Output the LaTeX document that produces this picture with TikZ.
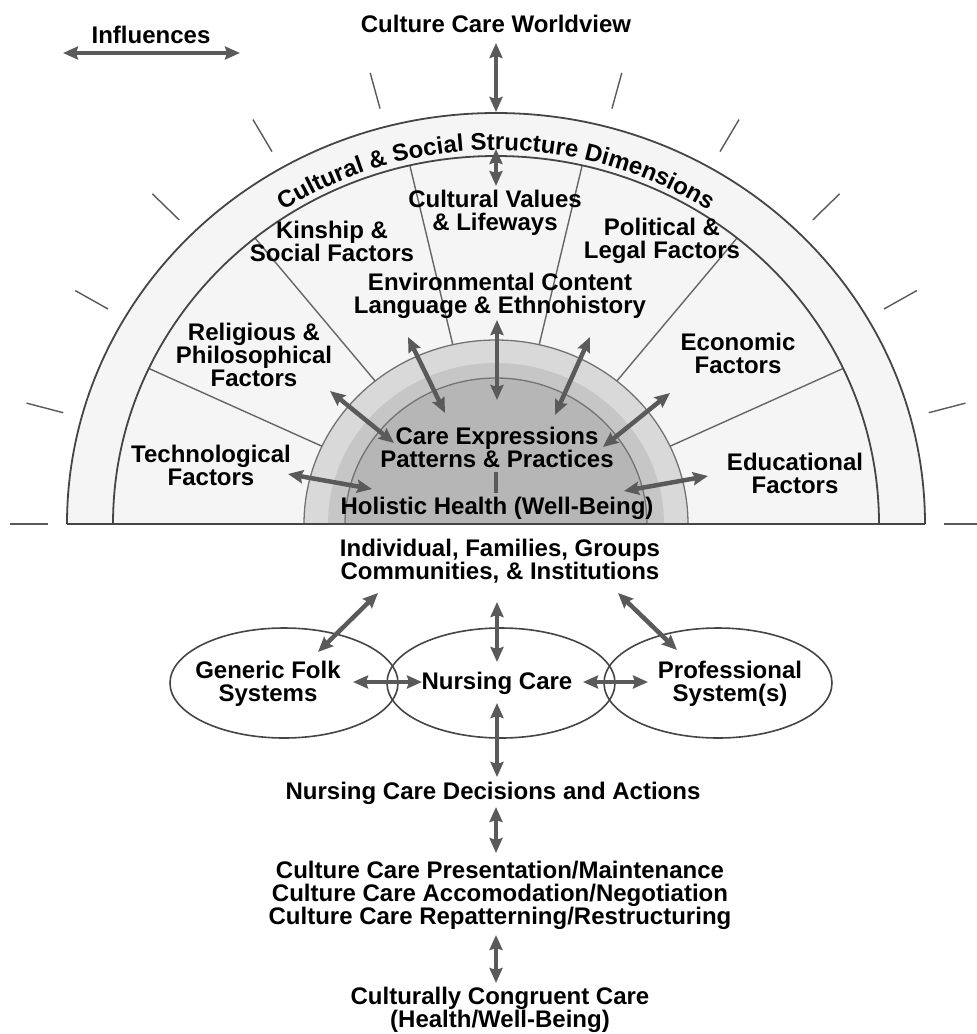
\documentclass[tikz,border=0pt]{standalone}
\usepackage{fontspec}
\setmainfont{Liberation Sans}
\usetikzlibrary{arrows.meta,shapes.geometric,decorations.text}
\definecolor{arrowgray}{HTML}{5A5A5A}
\definecolor{linegray}{HTML}{454545}
\definecolor{ringlight}{HTML}{D9D9D9}
\definecolor{ringmid}{HTML}{C6C6C6}
\definecolor{ringdark}{HTML}{B6B6B6}
\definecolor{paper}{HTML}{F5F5F5}
\newcommand\bandfont{\fontsize{24}{24}\selectfont\bfseries}
\begin{document}
\begin{tikzpicture}[x=1pt,y=-1pt,
  lbl/.style={font=\fontsize{24}{23}\selectfont\bfseries, align=center, inner sep=0pt},
  biarrow/.style={draw=arrowgray, line width=4.5pt, {Stealth[length=15pt,width=13pt,inset=2pt]}-{Stealth[length=15pt,width=13pt,inset=2pt]}},
  bar/.style={draw=arrowgray, line width=4.5pt},
  arcline/.style={draw=linegray, line width=1.8pt},
  spoke/.style={draw=black!60, line width=1.4pt},
  tickmark/.style={draw=black!65, line width=1.4pt},
  ringline/.style={draw=black!55, line width=1.3pt},
  oval/.style={ellipse, draw=linegray, line width=1.6pt, minimum width=228pt, minimum height=110pt, inner sep=0pt}
]
\useasboundingbox (0,0) rectangle (977,1034);
\coordinate (C) at (496,524);

% semicircle background
\fill[paper] (C) ++(-180:429 and 411) arc[start angle=-180,end angle=0,x radius=429,y radius=411] -- cycle;

% ticks
\foreach \a in {0,15,30,45,60,75,105,120,135,150,165,180}
  \draw[tickmark] ({496+448*cos(\a)},{524-430*sin(\a)}) -- ({496+486*cos(\a)},{524-467*sin(\a)});

% central rings
\fill[ringlight] (C) ++(-180:192 and 184) arc[start angle=-180,end angle=0,x radius=192,y radius=184] -- cycle;
\fill[ringmid] (C) ++(-180:168 and 161) arc[start angle=-180,end angle=0,x radius=168,y radius=161] -- cycle;
\fill[ringdark] (C) ++(-180:151 and 146) arc[start angle=-180,end angle=0,x radius=151,y radius=146] -- cycle;
\draw[ringline] (C) ++(-180:192 and 184) arc[start angle=-180,end angle=0,x radius=192,y radius=184];
\draw[ringline] (C) ++(-180:151 and 146) arc[start angle=-180,end angle=0,x radius=151,y radius=146];

% spokes
\foreach \a in {25,51,77,103,129,155}
  \draw[spoke] ({496+383*cos(\a)},{524-368*sin(\a)}) -- ({496+192*cos(\a)},{524-184*sin(\a)});

% outer arcs and baseline
\draw[arcline] (C) ++(-180:429 and 411) arc[start angle=-180,end angle=0,x radius=429,y radius=411];
\draw[arcline] (C) ++(-180:383 and 368) arc[start angle=-180,end angle=0,x radius=383,y radius=368];
\draw[arcline] (67,524) -- (925,524);

% band text
\path[decorate, decoration={text along path, text align=center,
  text={|\bandfont|Cultural {\&} Social Structure Dimensions}}]
  (C) ++(-132:389 and 374) arc[start angle=-132,end angle=-48,x radius=389,y radius=374];

% labels
\node[lbl] (infl) at (151,35) {Influences};
\node[lbl] (world) at (496,24) {Culture Care Worldview};
\node[lbl] (values) at (495,213) {Cultural Values\\\& Lifeways};
\node[lbl] (kin) at (332,241) {Kinship \&\\Social Factors};
\node[lbl] (pol) at (662,241) {Political \&\\Legal Factors};
\node[lbl] (env) at (500,296) {Environmental Content\\Language \& Ethnohistory};
\node[lbl] (rel) at (254,355) {Religious \&\\Philosophical\\Factors};
\node[lbl] (eco) at (738,353) {Economic\\Factors};
\node[lbl] (tech) at (211,465) {Technological\\Factors};
\node[lbl] (edu) at (795,473) {Educational\\Factors};
\node[lbl] (care) at (497,447) {Care Expressions\\Patterns \& Practices};
\node[lbl] (hol) at (497,508) {Holistic Health (Well-Being)};

% influences arrow
\coordinate (iL) at (63,53);
\coordinate (iR) at (240,53);
\draw[biarrow] (iL) -- (iR);

% vertical top arrows
\coordinate (t1a) at (496,43);
\coordinate (t1b) at (496,112);
\coordinate (t2a) at (496,149);
\coordinate (t2b) at (496,186);
\draw[biarrow] (t1a) -- (t1b);
\draw[biarrow] (t2a) -- (t2b);

% central arrows
\coordinate (c1a) at (497,320); \coordinate (c1b) at (497,400);
\coordinate (c2a) at (408,337); \coordinate (c2b) at (445,413);
\coordinate (c3a) at (590,337); \coordinate (c3b) at (555,415);
\coordinate (c4a) at (330,391); \coordinate (c4b) at (394,443);
\coordinate (c5a) at (670,393); \coordinate (c5b) at (603,447);
\coordinate (c6a) at (288,474); \coordinate (c6b) at (372,489);
\coordinate (c7a) at (708,476); \coordinate (c7b) at (624,491);
\draw[biarrow] (c1a) -- (c1b);
\draw[biarrow] (c2a) -- (c2b);
\draw[biarrow] (c3a) -- (c3b);
\draw[biarrow] (c4a) -- (c4b);
\draw[biarrow] (c5a) -- (c5b);
\draw[biarrow] (c6a) -- (c6b);
\draw[biarrow] (c7a) -- (c7b);
\coordinate (barA) at (496,472); \coordinate (barB) at (496,493);
\draw[bar] (barA) -- (barB);

% lower part
\node[lbl] (ind) at (500,561) {Individual, Families, Groups\\Communities, \& Institutions};
\node[oval] (e1) at (284,683) {};
\node[oval] (e2) at (501,683) {};
\node[oval] (e3) at (718,683) {};
\node[lbl] (gen) at (268,684) {Generic Folk\\Systems};
\node[lbl] (nur) at (497,683) {Nursing Care};
\node[lbl] (pro) at (730,684) {Professional\\System(s)};
\node[lbl] (dec) at (493,793) {Nursing Care Decisions and Actions};
\node[lbl] (str) at (500,895) {Culture Care Presentation/Maintenance\\Culture Care Accomodation/Negotiation\\Culture Care Repatterning/Restructuring};
\node[lbl] (ccc) at (500,1010) {Culturally Congruent Care\\(Health/Well-Being)};

\coordinate (l1a) at (378,593); \coordinate (l1b) at (318,652);
\coordinate (l2a) at (497,602); \coordinate (l2b) at (497,662);
\coordinate (l3a) at (618,593); \coordinate (l3b) at (677,650);
\coordinate (l4a) at (353,682); \coordinate (l4b) at (422,682);
\coordinate (l5a) at (583,682); \coordinate (l5b) at (648,682);
\coordinate (l6a) at (497,703); \coordinate (l6b) at (497,777);
\coordinate (l7a) at (496,807); \coordinate (l7b) at (496,853);
\coordinate (l8a) at (496,935); \coordinate (l8b) at (496,983);
\foreach \i in {1,...,8} \draw[biarrow] (l\i a) -- (l\i b);
\end{tikzpicture}
\end{document}
